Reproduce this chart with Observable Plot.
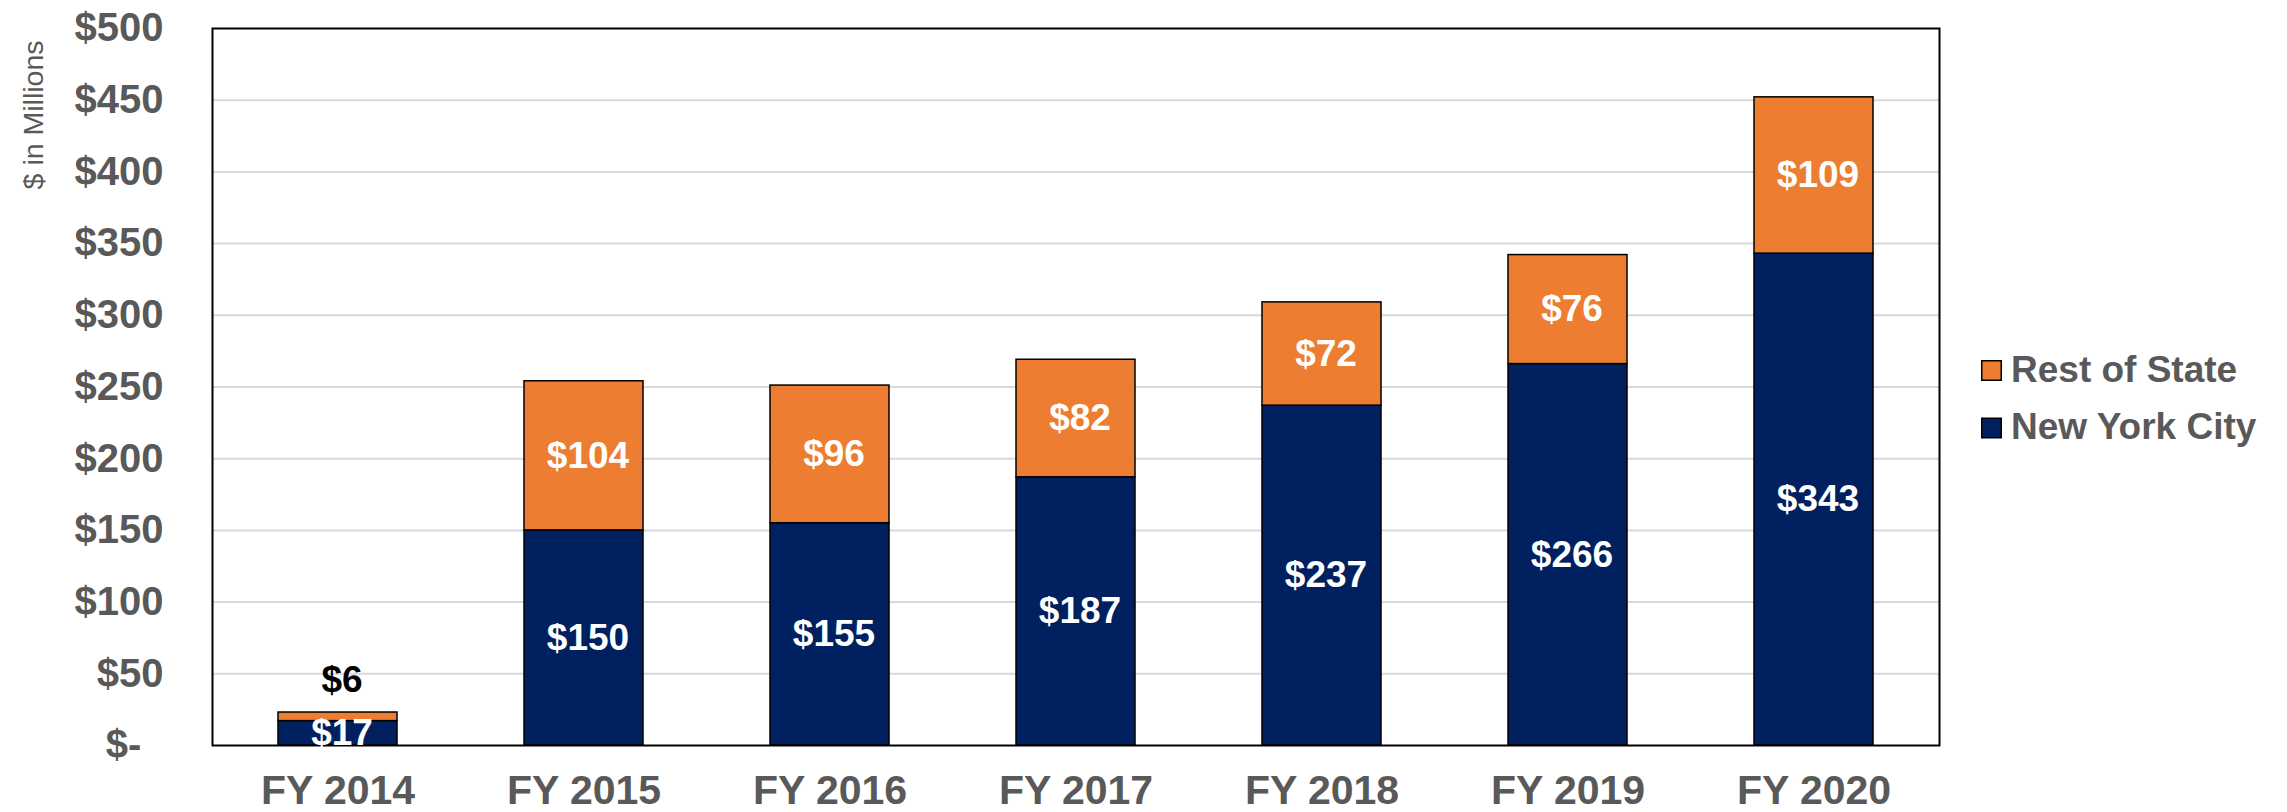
<!DOCTYPE html>
<html><head><meta charset="utf-8">
<script src="https://cdn.jsdelivr.net/npm/d3@7"></script>
<script src="https://cdn.jsdelivr.net/npm/@observablehq/plot@0.6"></script>
<style>
body{margin:0;background:#fff;}
#wrap{position:relative;width:2287px;height:812px;overflow:hidden;}
#wrap svg{position:absolute;left:0;top:0;}
</style></head><body><div id="wrap"></div>
<script>
const years = ["FY 2014","FY 2015","FY 2016","FY 2017","FY 2018","FY 2019","FY 2020"];
const nycValues = [17,150,155,187,237,266,343];
const restValues = [6,104,96,82,72,76,109];
const seriesNames = ["New York City","Rest of State"];
const seriesColors = ["#002060","#ED7D31"];
const yTicks = [0,50,100,150,200,250,300,350,400,450,500];
const yAxisTitle = "$ in Millions";

const data = [];
years.forEach((y,i) => {
  data.push({year: y, series: seriesNames[0], value: nycValues[i]});
  data.push({year: y, series: seriesNames[1], value: restValues[i]});
});
const fmt = v => v === 0 ? "$-\u00a0\u00a0" : "$" + v;
const font = "'Liberation Sans', Arial, sans-serif";

const chart = Plot.plot({
  width: 2287, height: 812,
  marginLeft: 212, marginRight: 348, marginTop: 28, marginBottom: 67,
  style: {fontFamily: font, color: "#595959", background: "white", overflow: "visible"},
  x: {domain: years, paddingInner: 0.515, paddingOuter: 0.2575, label: null},
  y: {domain: [0, 500], ticks: yTicks, label: null},
  color: {domain: seriesNames, range: seriesColors},
  marks: [
    Plot.gridY(yTicks.filter(t => t > 0 && t < 500), {stroke: "#d9d9d9", strokeOpacity: 1, strokeWidth: 2}),
    Plot.axisY(yTicks, {tickSize: 0, tickPadding: 49, fontSize: 40, fontWeight: "bold", tickFormat: fmt, label: null, fill: "#595959"}),
    Plot.axisX({tickSize: 0, tickPadding: 29, fontSize: 41, fontWeight: "bold", label: null, fill: "#595959"}),
    Plot.barY(data, {x: "year", y: "value", fill: "series", stroke: "black", strokeWidth: 1.5}),
    Plot.frame({stroke: "black", strokeWidth: 2}),
    Plot.text(data, Plot.stackY({x: "year", y: "value", z: "series",
      text: d => d.value >= 10 ? "$" + d.value : null,
      fill: "white", fontSize: 37, fontWeight: "bold", dx: 4})),
    Plot.text(data, Plot.stackY2({x: "year", y: "value", z: "series",
      text: d => d.value < 10 ? "$" + d.value : null,
      fill: "black", fontSize: 37, fontWeight: "bold", dx: 4, dy: -32})),
    Plot.text([yAxisTitle], {frameAnchor: "top-left", rotate: -90, textAnchor: "end", lineAnchor: "bottom",
      dx: -170, dy: 12, fontSize: 28.5, fill: "#595959", text: d => d})
  ]
});
document.getElementById("wrap").appendChild(chart);

// Legend built from the plot's own color scale
const color = chart.scale("color");
const legendItems = color.domain.map((d, i) => ({name: d, color: color.range[i]})).reverse();
const leg = d3.select("#wrap").append("svg")
  .attr("width", 2287).attr("height", 812)
  .style("pointer-events", "none")
  .style("font-family", font);
const g = leg.selectAll("g").data(legendItems).join("g")
  .attr("transform", (d, i) => `translate(1981,${360 + i * 57.5})`);
g.append("rect").attr("x", 0.75).attr("y", 0.75).attr("width", 19.5).attr("height", 19.5)
  .attr("fill", d => d.color).attr("stroke", "black").attr("stroke-width", 1.5);
g.append("text").attr("x", 30).attr("y", 21.7).text(d => d.name)
  .attr("fill", "#595959").attr("font-size", 37).attr("font-weight", "bold");
</script></body></html>
